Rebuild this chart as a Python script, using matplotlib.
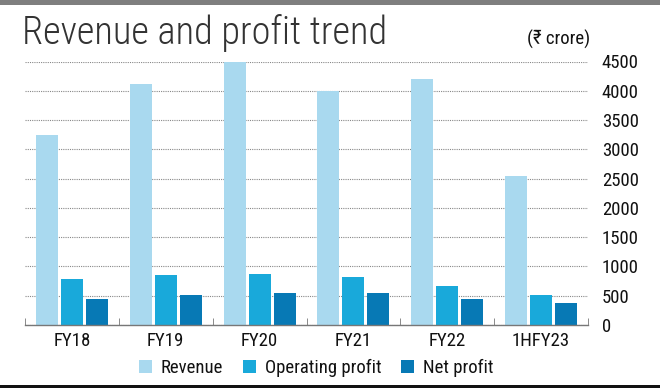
import numpy as np
import matplotlib.pyplot as plt
from matplotlib import font_manager
from matplotlib.patches import Rectangle

periods = ['FY18', 'FY19', 'FY20', 'FY21', 'FY22', '1HFY23']
revenue = [3240, 4110, 4510, 3990, 4200, 2540]
operating_profit = [780, 850, 870, 815, 660, 520]
net_profit = [440, 505, 555, 550, 450, 380]
yticks = [0, 500, 1000, 1500, 2000, 2500, 3000, 3500, 4000, 4500]

installed = {(f.name, f.weight) for f in font_manager.fontManager.ttflist}
names = {n for n, _ in installed}


def pick(cands, weight=None):
    for c in cands:
        if c in names and (weight is None or (c, weight) in installed):
            return c
    return 'DejaVu Sans'


label_font = pick(['Roboto Condensed', 'Fira Sans Extra Condensed', 'Archivo Narrow',
                   'Fira Sans Condensed', 'Liberation Sans Narrow'])
title_font = pick(['Open Sans Condensed', 'Roboto Condensed', 'Fira Sans Condensed',
                   'Asap Condensed', 'Lato', 'Open Sans'], 300)
narrow = [label_font, 'DejaVu Sans']
fs = 13.5
fw = 'normal'

c_rev, c_op, c_net = '#a9d9ef', '#19a9da', '#0779b5'

fig = plt.figure(figsize=(6.6, 3.88), dpi=100)
ax = fig.add_axes([25/660, 1 - 325/388, 563/660, (325 - 61.5)/388])

x = np.arange(len(periods))
w = 0.234
off = 0.266
ax.bar(x - off, revenue, w, color=c_rev, label='Revenue', zorder=2)
ax.bar(x, operating_profit, w, color=c_op, label='Operating profit', zorder=2)
ax.bar(x + off, net_profit, w, color=c_net, label='Net profit', zorder=2)

ax.set_xlim(-0.5, len(periods) - 0.5)
ax.set_ylim(0, 4500)
ax.set_yticks(yticks)
ax.yaxis.tick_right()
ax.set_yticklabels([str(v) for v in yticks], family=narrow, fontsize=fs,
                   fontweight=fw, color='#111111')
ax.tick_params(axis='y', length=0, pad=10)
ax.set_xticks(x)
ax.set_xticklabels(periods, family=narrow, fontsize=fs, fontweight=fw, color='#111111')
ax.tick_params(axis='x', length=0, pad=5)
ax.set_xticks(np.arange(-0.5, len(periods)), minor=True)
ax.tick_params(axis='x', which='minor', direction='in', length=5, color='#777777')
ax.grid(axis='y', linestyle=(0, (1, 1)), color='#888888', lw=0.8, zorder=0)
for s in ['top', 'left', 'right']:
    ax.spines[s].set_visible(False)
ax.spines['bottom'].set_color('#777777')
ax.spines['bottom'].set_linewidth(1)

r = fig.canvas.get_renderer()
title = fig.text(22/660, 1 - 44/388, 'Revenue and profit trend', family=[title_font, 'DejaVu Sans'],
                 fontweight=200, fontsize=24, color='#333333', va='baseline')
# the title runs to about x = 390 px in the original
tw = title.get_window_extent(r).width
title.set_fontsize(24 * 366 / tw)

fig.text(590/660, 1 - 45/388, '(\u20b9 crore)', family=narrow, fontsize=fs, fontweight=fw,
         color='#111111', ha='right', va='baseline')

fig.legend(loc='center', bbox_to_anchor=(316/660, 1 - 368/388), ncol=3, frameon=False,
           prop={'family': narrow, 'size': fs, 'weight': fw}, handlelength=0.72,
           handleheight=0.72, handletextpad=0.45, columnspacing=1.05,
           labelcolor='#111111')

fig.add_artist(Rectangle((0, 1 - 5/388), 1, 5/388, transform=fig.transFigure,
                         color='#7f7f7f', lw=0))
fig.add_artist(Rectangle((0, 0), 1, 3/388, transform=fig.transFigure,
                         color='#111111', lw=0))

fig.savefig('out.png', dpi=100)
